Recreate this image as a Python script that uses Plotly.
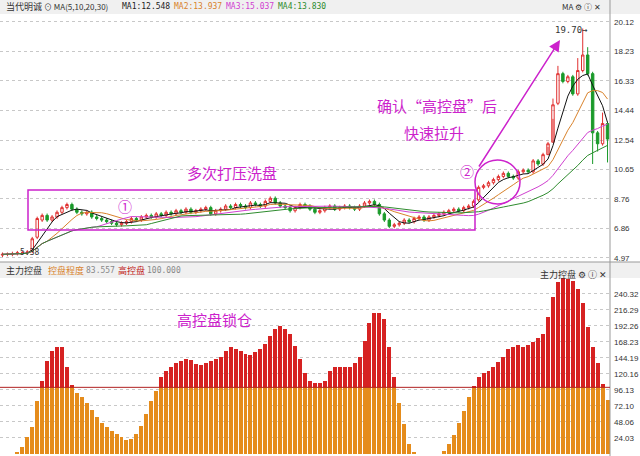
import numpy as np
import pandas as pd
import plotly.graph_objects as go

# daily candles (approximate)
opens = [5.15,5.2,5.2,5.25,5.3,5.3, 5.4,6.3,7.4,7.7, 7.4,7.6,7.9,8.2,8.4,8.1,
         7.9,7.8,7.9,7.6,7.5,7.4, 7.3,7.2,7.1,7.2,7.3,7.5, 7.4,7.6,7.7,7.6,7.8,7.7,
         7.9,7.8,8.0,7.9,8.1,7.9, 8.0,8.1,8.2,7.8,8.0,8.1, 8.3,8.2,8.4,8.3,8.2,8.5,
         8.4,8.3,8.6,8.8,8.5,8.3, 8.2,8.0,8.2,8.4,8.3,8.1, 7.9,8.0,8.2,8.3,8.1,8.2,
         8.3,8.2,8.1,8.3,8.5,8.6, 8.4,7.8,7.4,7.0,7.1,7.2, 7.4,7.3,7.5,7.6,7.4,7.6,
         7.7,7.8,7.9,8.0,8.1,8.0, 8.2,8.3,8.7,9.5,9.6,9.8, 10.0,10.2,10.4,10.2,10.1,10.5,
         10.6,10.5,11.2,11.0,11.6,12.4, 14.9,16.8,16.3,16.6,15.5,17.0, 18.0,16.8,13.0,12.3, 13.6]
closes = [5.2,5.2,5.25,5.3,5.3,5.35, 6.2,7.5,7.7,7.4, 7.6,7.9,8.2,8.4,8.1,7.9,
          7.8,7.9,7.6,7.5,7.4,7.3, 7.2,7.1,7.2,7.3,7.5,7.4, 7.6,7.7,7.6,7.8,7.7,7.9,
          7.8,8.0,7.9,8.1,7.9,8.0, 8.1,8.2,7.8,8.0,8.1,8.3, 8.2,8.4,8.3,8.2,8.5,8.4,
          8.3,8.6,8.8,8.5,8.3,8.2, 8.0,8.2,8.4,8.3,8.1,7.9, 8.0,8.2,8.3,8.1,8.2,8.3,
          8.2,8.1,8.3,8.5,8.6,8.4, 7.8,7.4,7.0,7.1,7.2,7.4, 7.3,7.5,7.6,7.4,7.6,7.7,
          7.8,7.9,8.0,8.1,8.0,8.2, 8.3,8.6,9.5,9.6,9.8,10.0, 10.2,10.4,10.2,10.1,10.5,10.6,
          10.5,11.2,11.0,11.6,12.3,14.8, 16.8,16.3,16.6,15.5,17.0,18.0, 16.8,13.0,12.3,13.6, 12.6]
wick_overrides_high = {111: 15.2, 112: 17.3, 116: 17.8, 117: 19.7, 118: 18.5, 121: 14.3}
wick_overrides_low = {110: 12.1, 111: 13.9, 119: 11.0, 120: 11.8, 122: 11.1}

# main force control indicator
control = [0,0,0,2,10,25,40,80,110,140, 155,160,160,130,103,92,85,76,66,56,
           47,40,34,30,25,21,22,30,42,60, 80,95,116,125,131,136,139,143,141,135,
           134,136,139,142,146,155,161,158,154,150, 149,153,157,165,177,187,192,188,180,162,
           142,122,110,107,107,110,125,131,131,130, 130,136,146,170,197,212,212,203,161,116,
           77,45,15,2,0,0,0,0,0,4, 15,28,47,65,85,102,115,121,125,130,
           138,146,157,160,163,160,163,168,174,180, 205,235,258,264,263,260,247,227,190,160,
           137,105,81]
high_line = 100

price_ticks = [4.97, 6.86, 8.76, 10.65, 12.54, 14.44, 16.33, 18.23, 20.12]
ind_ticks = [24.03, 48.06, 72.10, 96.13, 120.16, 144.19, 168.23, 192.26, 216.29, 240.32]

n = len(closes)
x = list(range(n))
o = np.array(opens); c = np.array(closes)
hi = np.maximum(o, c) + 0.12
lo = np.minimum(o, c) - 0.12
for k, v in wick_overrides_high.items(): hi[k] = v
for k, v in wick_overrides_low.items(): lo[k] = v

cs = pd.Series(closes)
ma_cols = {5: '#111111', 10: '#d9822b', 20: '#d040d0', 30: '#2e8b2e'}

W, H = 640, 456
PW = 610
def px(v): return v / PW
def py(v): return 1 - v / H

fig = go.Figure()
fig.add_trace(go.Candlestick(
    x=x, open=o, high=hi, low=lo, close=c, xaxis='x', yaxis='y',
    increasing=dict(line=dict(color='#e03030', width=1), fillcolor='rgba(255,255,255,0)'),
    decreasing=dict(line=dict(color='#1a9a2a', width=1), fillcolor='#1a9a2a'),
    whiskerwidth=0, showlegend=False))
for p, col in ma_cols.items():
    fig.add_trace(go.Scatter(x=x, y=cs.rolling(p, min_periods=1).mean(), mode='lines',
                             line=dict(color=col, width=1), showlegend=False, yaxis='y'))

ind = np.array(control, dtype=float)
fig.add_trace(go.Bar(x=x, y=np.minimum(ind, high_line), marker_color='#e58c1c',
                     marker_line_width=0, xaxis='x2', yaxis='y2', showlegend=False))
fig.add_trace(go.Bar(x=x, y=np.maximum(ind - high_line, 0), marker_color='#d62222',
                     marker_line_width=0, xaxis='x2', yaxis='y2', showlegend=False))

grid = dict(showgrid=True, gridcolor='#c8c8c8', griddash='dot', gridwidth=1)
tickf = dict(size=8, family='Liberation Sans', color='#333')
fig.update_layout(
    width=W, height=H, margin=dict(l=0, r=W - PW, t=0, b=0, autoexpand=False),
    paper_bgcolor='white', plot_bgcolor='white', barmode='stack', bargap=0.2,
    font=dict(family='Noto Sans CJK SC', size=10, color='#333'),
    xaxis=dict(range=[-0.5, n - 0.5], visible=False, rangeslider=dict(visible=False),
               domain=[0, 1]),
    xaxis2=dict(range=[-0.5, n - 0.5], visible=False, anchor='y2', domain=[0, 1]),
    yaxis=dict(domain=[py(264), py(14)], range=[4.58, 20.63], side='right',
               tickvals=price_ticks, ticktext=[f'{t:.2f}' for t in price_ticks],
               tickfont=tickf, ticklen=0, ticklabelstandoff=3, zeroline=False,
               automargin=False, **grid),
    yaxis2=dict(domain=[0, py(268)], range=[-3, 279], side='right', anchor='x2',
                tickvals=ind_ticks, ticktext=[f'{t:.2f}' for t in ind_ticks],
                tickfont=tickf, ticklen=0, ticklabelstandoff=3, zeroline=False,
                automargin=False, **grid),
)

shapes = [
    dict(type='rect', xref='paper', yref='paper', x0=0, x1=1.06, y0=py(14), y1=1,
         fillcolor='#f0f0f0', line=dict(width=0)),
    dict(type='rect', xref='paper', yref='paper', x0=0, x1=1.06, y0=py(278), y1=py(262),
         fillcolor='#f0f0f0', line=dict(width=0)),
    dict(type='line', xref='paper', yref='paper', x0=0, x1=1.06, y0=py(262), y1=py(262),
         line=dict(color='#999', width=1)),
    dict(type='line', xref='paper', yref='paper', x0=1, x1=1, y0=0, y1=1,
         line=dict(color='#999', width=1)),
    dict(type='line', xref='paper', yref='y2', x0=0, x1=1, y0=high_line, y1=high_line,
         line=dict(color='#b02020', width=1)),
    dict(type='rect', xref='paper', yref='paper', x0=px(28), x1=px(475), y0=py(230), y1=py(190),
         line=dict(color='#cc22cc', width=1.5)),
    dict(type='circle', xref='paper', yref='paper', x0=px(475), x1=px(520), y0=py(204), y1=py(160),
         line=dict(color='#cc22cc', width=1.5)),
]
fig.update_layout(shapes=shapes)

def txt(s, xp, yp, size=10, color='#333', anchor='left', fam='Noto Sans CJK SC'):
    fig.add_annotation(text=s, xref='paper', yref='paper', x=px(xp), y=py(yp),
                       xanchor=anchor, yanchor='middle', showarrow=False,
                       font=dict(size=size, color=color, family=fam))

txt('当代明诚', 4, 7, 9)
txt('⊙ MA(5,10,20,30)', 42, 7, 8)
txt('MA1:12.548', 120, 7, 8, '#222', fam='DejaVu Sans Mono')
txt('MA2:13.937', 172, 7, 8, '#d9822b', fam='DejaVu Sans Mono')
txt('MA3:15.037', 224, 7, 8, '#d040d0', fam='DejaVu Sans Mono')
txt('MA4:13.830', 276, 7, 8, '#2e8b2e', fam='DejaVu Sans Mono')
txt('MA ⚙ ⓘ ✕', 560, 7, 8)
txt('主力控盘', 4, 270, 9)
txt('控盘程度', 46, 270, 9, '#d9822b')
txt('83.557', 84, 270, 8, '#888', fam='DejaVu Sans Mono')
txt('高控盘', 116, 270, 9, '#c02020')
txt('100.000', 145, 270, 8, '#888', fam='DejaVu Sans Mono')
txt('主力控盘 ⚙ ⓘ ✕', 538, 274, 9)
txt('5.38', 18, 252, 8, '#333', fam='DejaVu Sans Mono')
txt('19.70→', 553, 30, 9, '#333', fam='DejaVu Sans Mono')
txt('多次打压洗盘', 185, 172, 15, '#cc22cc')
txt('①', 125, 206, 14, '#cc22cc', 'center')
txt('②', 467, 171, 14, '#cc22cc', 'center')
txt('确认“高控盘”后', 375, 105, 15, '#cc22cc')
txt('快速拉升', 402, 132, 15, '#cc22cc')
txt('高控盘锁仓', 175, 319, 15, '#cc22cc')

fig.add_annotation(xref='paper', yref='paper', x=px(560), y=py(40), ax=-82, ay=128,
                   showarrow=True, arrowhead=2,
                   arrowsize=1.5, arrowwidth=1.5, arrowcolor='#cc22cc', text='')

fig.write_html('out.html', config={'displayModeBar': False})

# keep the page from scrolling so the right-hand tick labels are not hidden
with open('out.html', encoding='utf-8') as f:
    page = f.read()
page = page.replace('<head>', '<head><style>html,body{margin:0;padding:0;overflow:hidden}</style>', 1)
with open('out.html', 'w', encoding='utf-8') as f:
    f.write(page)
